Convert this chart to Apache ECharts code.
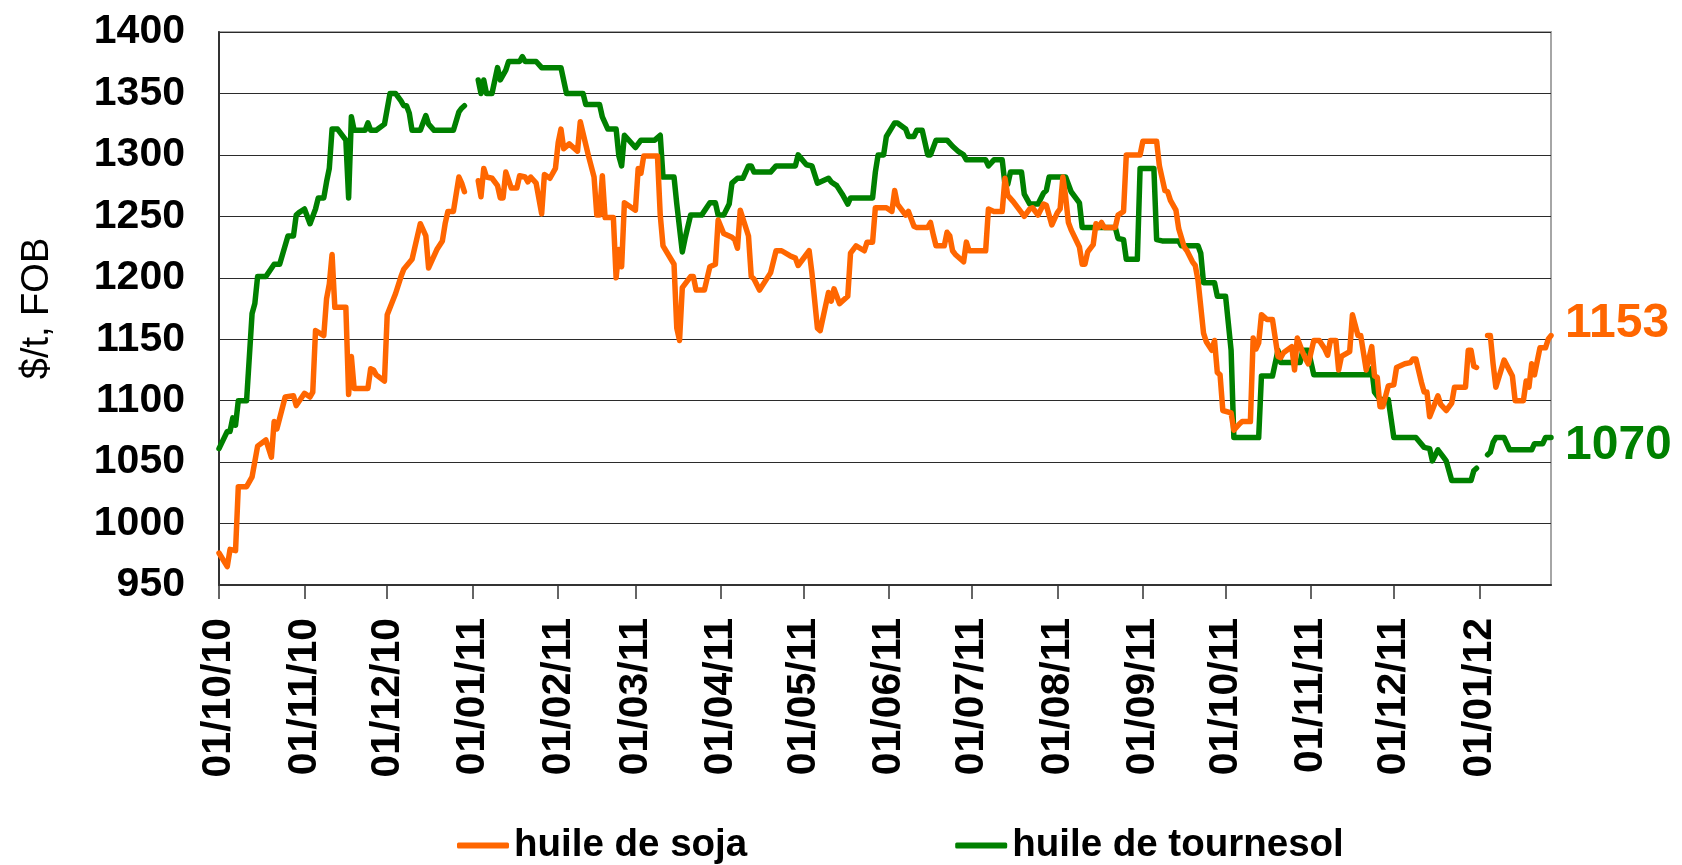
<!DOCTYPE html>
<html>
<head>
<meta charset="utf-8">
<script src="https://cdn.jsdelivr.net/npm/echarts@6/dist/echarts.min.js"></script>
<style>
html,body{margin:0;padding:0;background:#fff;}
#chart{width:1682px;height:865px;}
</style>
</head>
<body>
<div id="chart"></div>
<script>
// Axis range (daily calendar axis)
var startDate = '2010-10-01';
var endDate = '2012-01-27';
var yTicks = [950, 1000, 1050, 1100, 1150, 1200, 1250, 1300, 1350, 1400];

// huile de soja
var sojaDates = ['2010-10-01','2010-10-04','2010-10-05','2010-10-07','2010-10-08','2010-10-11','2010-10-13','2010-10-15','2010-10-18','2010-10-20','2010-10-21','2010-10-22','2010-10-25','2010-10-28','2010-10-29',
'2010-11-01','2010-11-03','2010-11-04','2010-11-05','2010-11-08','2010-11-09','2010-11-10','2010-11-11','2010-11-12','2010-11-16','2010-11-17','2010-11-18','2010-11-19','2010-11-24','2010-11-25','2010-11-26','2010-11-27','2010-11-30',
'2010-12-01','2010-12-04','2010-12-06','2010-12-07','2010-12-10','2010-12-13','2010-12-15','2010-12-16','2010-12-19','2010-12-21','2010-12-22','2010-12-23','2010-12-25','2010-12-27','2010-12-28','2010-12-29',
'2011-01-01','2011-01-03','2011-01-04','2011-01-05','2011-01-06','2011-01-08','2011-01-10','2011-01-11','2011-01-12','2011-01-13','2011-01-15','2011-01-17','2011-01-18','2011-01-20','2011-01-21','2011-01-22','2011-01-24','2011-01-26','2011-01-27','2011-01-29','2011-01-31',
'2011-02-01','2011-02-02','2011-02-03','2011-02-05','2011-02-08','2011-02-09','2011-02-12','2011-02-14','2011-02-15','2011-02-16','2011-02-17','2011-02-18','2011-02-21','2011-02-22','2011-02-23','2011-02-24','2011-02-25',
'2011-03-01','2011-03-02','2011-03-03','2011-03-04','2011-03-09','2011-03-10','2011-03-11','2011-03-15','2011-03-16','2011-03-17','2011-03-18','2011-03-21','2011-03-22','2011-03-23','2011-03-26','2011-03-28','2011-03-30','2011-03-31',
'2011-04-02','2011-04-05','2011-04-06','2011-04-07','2011-04-08','2011-04-11','2011-04-12','2011-04-13','2011-04-15','2011-04-19','2011-04-21','2011-04-23','2011-04-26','2011-04-28','2011-04-29',
'2011-05-03','2011-05-04','2011-05-06','2011-05-07','2011-05-10','2011-05-11','2011-05-12','2011-05-14','2011-05-17','2011-05-18','2011-05-20','2011-05-23','2011-05-24','2011-05-26','2011-05-27','2011-05-31',
'2011-06-02','2011-06-03','2011-06-04','2011-06-07','2011-06-08','2011-06-10','2011-06-11','2011-06-15','2011-06-16','2011-06-17','2011-06-18','2011-06-21','2011-06-22','2011-06-23','2011-06-24','2011-06-25','2011-06-28','2011-06-29','2011-06-30',
'2011-07-06','2011-07-07','2011-07-09','2011-07-12','2011-07-13','2011-07-14','2011-07-16','2011-07-19','2011-07-20','2011-07-22','2011-07-23','2011-07-25','2011-07-27','2011-07-28','2011-07-30',
'2011-08-01','2011-08-02','2011-08-03','2011-08-04','2011-08-05','2011-08-06','2011-08-09','2011-08-10','2011-08-11','2011-08-12','2011-08-14','2011-08-15','2011-08-16','2011-08-17','2011-08-18','2011-08-22','2011-08-23','2011-08-25','2011-08-26','2011-08-31',
'2011-09-01','2011-09-06','2011-09-07','2011-09-08','2011-09-09','2011-09-10','2011-09-11','2011-09-13','2011-09-14','2011-09-16','2011-09-17','2011-09-19','2011-09-20','2011-09-21','2011-09-23','2011-09-24','2011-09-26','2011-09-27','2011-09-28','2011-09-29','2011-09-30',
'2011-10-03','2011-10-04','2011-10-06','2011-10-07','2011-10-10','2011-10-11','2011-10-12','2011-10-13','2011-10-14','2011-10-16','2011-10-18','2011-10-20','2011-10-21','2011-10-22','2011-10-25','2011-10-26','2011-10-27','2011-10-29','2011-10-30','2011-10-31',
'2011-11-02','2011-11-04','2011-11-06','2011-11-07','2011-11-08','2011-11-10','2011-11-11','2011-11-12','2011-11-15','2011-11-16','2011-11-18','2011-11-19','2011-11-21','2011-11-23','2011-11-24','2011-11-25','2011-11-26','2011-11-27','2011-11-29',
'2011-12-01','2011-12-02','2011-12-05','2011-12-07','2011-12-08','2011-12-09','2011-12-11','2011-12-12','2011-12-13','2011-12-14','2011-12-17','2011-12-18','2011-12-20','2011-12-22','2011-12-23','2011-12-27','2011-12-28','2011-12-29','2011-12-30','2011-12-31',
'2012-01-01','2012-01-04','2012-01-05','2012-01-06','2012-01-07','2012-01-10','2012-01-13','2012-01-14','2012-01-17','2012-01-18','2012-01-19','2012-01-20','2012-01-21','2012-01-23','2012-01-25','2012-01-26','2012-01-27'];
var sojaValues = [976,965,979,978,1030,1030,1038,1063,1068,1054,1083,1077,1103,1104,1096,
1106,1103,1107,1157,1153,1183,1195,1219,1176,1176,1105,1136,1110,1110,1126,1125,1121,1116,
1170,1187,1201,1207,1215,1244,1234,1208,1223,1230,1244,1254,1254,1282,1277,1270,
null,1279,1266,1289,1282,1281,1275,1265,1265,1286,1273,1273,1283,1282,1278,1282,1277,1252,1284,1281,1289,
1310,1321,1305,1309,1303,1327,1299,1282,1251,1251,1283,1249,1249,1200,1223,1209,1261,
1255,1289,1285,1299,1299,1251,1226,1211,1159,1149,1192,1201,1201,1190,1190,1209,1211,1247,
1236,1233,1231,1224,1255,1234,1201,1199,1190,1204,1222,1222,1218,1216,1210,
1222,1204,1159,1157,1188,1181,1191,1179,1185,1220,1226,1222,1229,1229,1257,1257,
1254,1271,1260,1251,1254,1242,1241,1241,1245,1235,1226,1226,1237,1234,1222,1219,1213,1229,1222,
1222,1256,1254,1254,1281,1267,1262,1253,1250,1256,1257,1251,1260,1259,1243,
1253,1256,1282,1266,1245,1239,1225,1211,1211,1221,1227,1244,1241,1245,1241,1241,1251,1254,1300,1300,
1311,1311,1291,1281,1271,1270,1263,1255,1240,1225,1222,1213,1210,1198,1155,1148,1141,1149,1123,1121,1092,
1090,1076,1081,1083,1083,1151,1142,1147,1170,1166,1166,1136,1135,1139,1144,1125,1151,1139,1134,1130,
1149,1149,1142,1137,1149,1149,1125,1136,1140,1170,1153,1153,1125,1144,1120,1119,1095,1095,1112,
1113,1127,1130,1131,1134,1134,1115,1107,1107,1087,1104,1097,1092,1098,1111,1111,1141,1141,1128,1127,
null,1153,1153,1130,1111,1133,1120,1100,1100,1116,1111,1130,1121,1143,1143,1150,1153];

// huile de tournesol
var tournesolDates = ['2010-10-01','2010-10-04','2010-10-05','2010-10-06','2010-10-07','2010-10-08','2010-10-11','2010-10-13','2010-10-14','2010-10-15','2010-10-18','2010-10-21','2010-10-23','2010-10-26','2010-10-28','2010-10-29','2010-10-30',
'2010-11-01','2010-11-03','2010-11-05','2010-11-06','2010-11-08','2010-11-09','2010-11-10','2010-11-11','2010-11-13','2010-11-16','2010-11-17','2010-11-18','2010-11-19','2010-11-23','2010-11-24','2010-11-25','2010-11-27','2010-11-30',
'2010-12-02','2010-12-04','2010-12-06','2010-12-07','2010-12-08','2010-12-09','2010-12-10','2010-12-13','2010-12-15','2010-12-16','2010-12-18','2010-12-25','2010-12-27','2010-12-28','2010-12-29',
'2011-01-01','2011-01-03','2011-01-04','2011-01-05','2011-01-06','2011-01-08','2011-01-10','2011-01-11','2011-01-13','2011-01-14','2011-01-18','2011-01-19','2011-01-20','2011-01-24','2011-01-26',
'2011-02-02','2011-02-04','2011-02-10','2011-02-11','2011-02-16','2011-02-17','2011-02-19','2011-02-22','2011-02-23','2011-02-24','2011-02-25',
'2011-03-01','2011-03-03','2011-03-08','2011-03-10','2011-03-11','2011-03-15','2011-03-16','2011-03-18','2011-03-19','2011-03-21','2011-03-25','2011-03-28','2011-03-30','2011-03-31',
'2011-04-02','2011-04-04','2011-04-05','2011-04-07','2011-04-09','2011-04-11','2011-04-12','2011-04-13','2011-04-19','2011-04-21','2011-04-28','2011-04-29',
'2011-05-02','2011-05-04','2011-05-06','2011-05-10','2011-05-11','2011-05-13','2011-05-15','2011-05-17','2011-05-18','2011-05-26','2011-05-27','2011-05-28','2011-05-30','2011-05-31',
'2011-06-03','2011-06-04','2011-06-07','2011-06-08','2011-06-10','2011-06-11','2011-06-13','2011-06-15','2011-06-16','2011-06-18','2011-06-22','2011-06-24','2011-06-26','2011-06-28','2011-06-29',
'2011-07-06','2011-07-07','2011-07-09','2011-07-12','2011-07-13','2011-07-14','2011-07-15','2011-07-19','2011-07-20','2011-07-22','2011-07-25','2011-07-27','2011-07-28','2011-07-29',
'2011-08-04','2011-08-06','2011-08-09','2011-08-10','2011-08-22','2011-08-23','2011-08-25','2011-08-26','2011-08-30','2011-08-31',
'2011-09-05','2011-09-06','2011-09-08','2011-09-14','2011-09-15','2011-09-21','2011-09-22','2011-09-23','2011-09-27','2011-09-28',
'2011-10-01','2011-10-03','2011-10-04','2011-10-13','2011-10-14','2011-10-18','2011-10-20','2011-10-21','2011-10-28','2011-10-29','2011-10-31',
'2011-11-02','2011-11-22','2011-11-23','2011-11-24','2011-11-25','2011-11-26','2011-11-29',
'2011-12-01','2011-12-09','2011-12-12','2011-12-14','2011-12-15','2011-12-17','2011-12-19','2011-12-20','2011-12-22','2011-12-29','2011-12-30','2011-12-31',
'2012-01-01','2012-01-04','2012-01-05','2012-01-06','2012-01-07','2012-01-10','2012-01-12','2012-01-20','2012-01-21','2012-01-24','2012-01-25','2012-01-27'];
var tournesolValues = [1061,1075,1075,1086,1080,1100,1100,1171,1179,1201,1201,1211,1211,1234,1234,1251,1253,
1256,1244,1256,1265,1265,1278,1289,1321,1321,1312,1265,1331,1320,1320,1326,1320,1320,1325,
1350,1350,1344,1340,1340,1334,1320,1320,1332,1325,1320,1320,1335,1338,1340,
null,1361,1350,1361,1350,1350,1371,1361,1369,1376,1376,1380,1376,1376,1371,
1371,1350,1350,1341,1341,1331,1321,1321,1299,1291,1316,
1306,1312,1312,1316,1282,1282,1260,1221,1232,1251,1251,1261,1261,1251,
1251,1260,1277,1281,1281,1291,1291,1286,1286,1291,1291,1300,
1292,1291,1277,1281,1278,1275,1268,1260,1265,1265,1286,1300,1300,1315,
1326,1326,1321,1315,1315,1320,1320,1300,1300,1312,1312,1307,1303,1300,1296,
1296,1291,1296,1296,1276,1276,1286,1286,1268,1260,1260,1269,1271,1282,
1282,1270,1261,1241,1241,1232,1231,1215,1215,1289,
1289,1231,1230,1230,1226,1226,1220,1196,1196,1185,
1185,1141,1070,1070,1120,1120,1141,1131,1131,1141,1141,
1121,1121,1126,1107,1104,1101,1101,
1070,1070,1062,1061,1051,1060,1054,1051,1035,1035,1043,1045,
null,1056,1058,1066,1070,1070,1060,1060,1065,1065,1070,1070];

// build daily category list for the calendar axis
function pad(n){return n<10?'0'+n:''+n;}
var days = [];
(function(){
  var d = new Date(startDate + 'T00:00:00Z');
  var e = new Date(endDate + 'T00:00:00Z');
  while (d <= e) {
    days.push(d.getUTCFullYear()+'-'+pad(d.getUTCMonth()+1)+'-'+pad(d.getUTCDate()));
    d = new Date(d.getTime() + 86400000);
  }
})();
function zip(a, b){ return a.map(function(x, i){ return [x, b[i]]; }); }
function isMonthStart(i, v){ return v.slice(8) === '01'; }
function fmtDate(v){ return v.slice(8,10) + '/' + v.slice(5,7) + '/' + v.slice(2,4); }

var FONT = "'Liberation Sans', Arial, sans-serif";
var chart = echarts.init(document.getElementById('chart'), null, {renderer: 'canvas'});
chart.setOption({
  animation: false,
  backgroundColor: '#ffffff',
  textStyle: {fontFamily: FONT},
  grid: {
    left: 219, right: 131, top: 32, bottom: 280,
    show: true, borderColor: '#a6a6a6', borderWidth: 2,
    containLabel: false, outerBoundsMode: 'none'
  },
  legend: {
    left: 452, top: 821,
    itemWidth: 52, itemHeight: 6, itemGap: 208,
    icon: 'roundRect',
    textStyle: {fontFamily: FONT, fontSize: 38.5, fontWeight: 'bold', color: '#000'},
    data: ['huile de soja', 'huile de tournesol']
  },
  xAxis: {
    type: 'category',
    data: days,
    boundaryGap: false,
    axisLine: {show: true, lineStyle: {color: '#333', width: 2}},
    axisTick: {show: true, interval: isMonthStart, length: 14, lineStyle: {color: '#333', width: 1.5}},
    axisLabel: {
      interval: isMonthStart, rotate: 90, margin: 33,
      formatter: fmtDate,
      fontFamily: FONT, fontSize: 41, fontWeight: 'bold', color: '#000'
    },
    splitLine: {show: false}
  },
  yAxis: {
    type: 'value',
    min: yTicks[0], max: yTicks[yTicks.length-1], interval: 50,
    name: '$/t, FOB',
    nameLocation: 'middle', nameRotate: 90, nameGap: 162,
    nameTextStyle: {fontFamily: FONT, fontSize: 38, color: '#000'},
    axisLine: {show: true, lineStyle: {color: '#333', width: 2}},
    axisTick: {show: false},
    axisLabel: {
      margin: 34, fontFamily: FONT, fontSize: 41, fontWeight: 'bold', color: '#000',
      formatter: function(v){ return String(v); }
    },
    splitLine: {show: true, lineStyle: {color: '#2b2b2b', width: 1}}
  },
  series: [
    {
      name: 'huile de soja', type: 'line',
      data: zip(sojaDates, sojaValues),
      symbol: 'none', connectNulls: false, z: 3,
      color: '#ff6600',
      lineStyle: {color: '#ff6600', width: 5.5, join: 'round', cap: 'round'},
      endLabel: {
        show: true, distance: 14, offset: [0, -12],
        formatter: function(p){ return p.value[1]; },
        fontFamily: FONT, fontSize: 48, fontWeight: 'bold', color: '#ff6600'
      }
    },
    {
      name: 'huile de tournesol', type: 'line',
      data: zip(tournesolDates, tournesolValues),
      symbol: 'none', connectNulls: false, z: 2,
      color: '#008000',
      lineStyle: {color: '#008000', width: 5.5, join: 'round', cap: 'round'},
      endLabel: {
        show: true, distance: 14, offset: [0, 8],
        formatter: function(p){ return p.value[1]; },
        fontFamily: FONT, fontSize: 48, fontWeight: 'bold', color: '#008000'
      }
    }
  ]
});
</script>
</body>
</html>
